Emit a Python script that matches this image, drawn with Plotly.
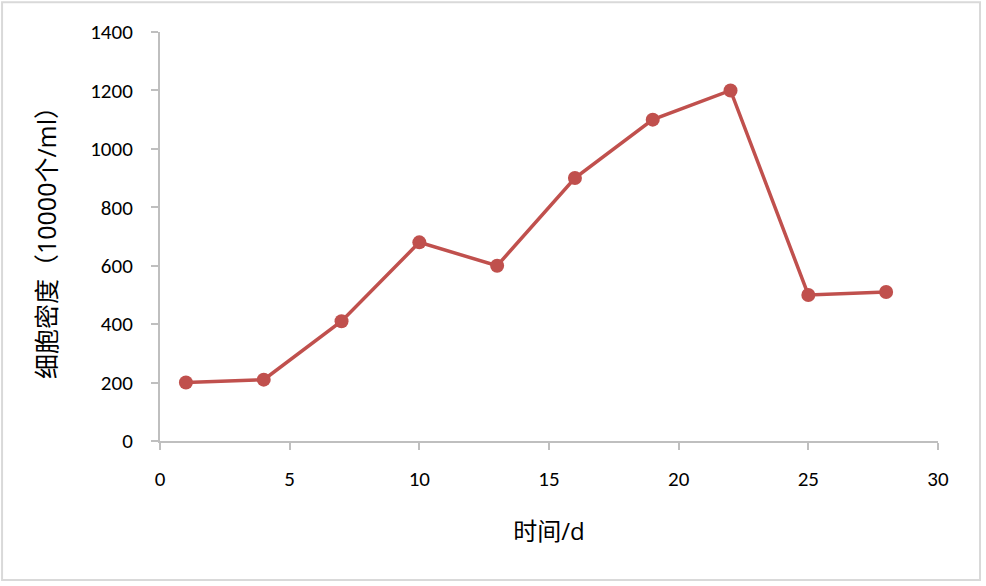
import plotly.graph_objects as go

days = [1, 4, 7, 10, 13, 16, 19, 22, 25, 28]
density = [200, 210, 410, 680, 600, 900, 1100, 1200, 500, 510]

x_ticks = [0, 5, 10, 15, 20, 25, 30]
y_ticks = [0, 200, 400, 600, 800, 1000, 1200, 1400]

fig = go.Figure()
fig.add_trace(go.Scatter(
    x=days, y=density, mode="lines+markers",
    line=dict(color="#C0504D", width=3.5),
    marker=dict(color="#C0504D", size=14),
    showlegend=False,
))

font_main = "Calibri, Carlito, 'Open Sans', sans-serif"
cjk = "'Open Sans', 'Noto Sans CJK SC', sans-serif"
fig.update_layout(
    width=986, height=586,
    margin=dict(l=160, r=48, t=32, b=145),
    paper_bgcolor="white", plot_bgcolor="white",
    font=dict(family=font_main, size=21, color="black"),
    xaxis=dict(
        range=[0, 30], tickvals=x_ticks, showgrid=False, zeroline=False,
        showline=True, linecolor="#BFBFBF", linewidth=2,
        ticks="outside", ticklen=7, tickcolor="#BFBFBF", tickwidth=2,
        tickfont=dict(size=21), ticklabelstandoff=11,
        title=dict(text="时间/d", standoff=32, font=dict(family=cjk, size=24)),
    ),
    yaxis=dict(
        range=[0, 1400], tickvals=y_ticks, showgrid=False, zeroline=False,
        showline=True, linecolor="#BFBFBF", linewidth=2,
        ticks="outside", ticklen=7, tickcolor="#BFBFBF", tickwidth=2,
        tickfont=dict(size=21), ticklabelstandoff=14,
        title=dict(text="细胞密度（10000个/ml）", standoff=26, font=dict(family=cjk, size=25)),
    ),
)

fig.add_shape(type="rect", xref="paper", yref="paper",
              x0=-0.203, x1=1.054, y0=-0.34, y1=1.073,
              line=dict(color="#D9D9D9", width=2), layer="below")

fig.write_html("out.html", config={"displayModeBar": False},
               post_script="document.body.style.margin='0';")
